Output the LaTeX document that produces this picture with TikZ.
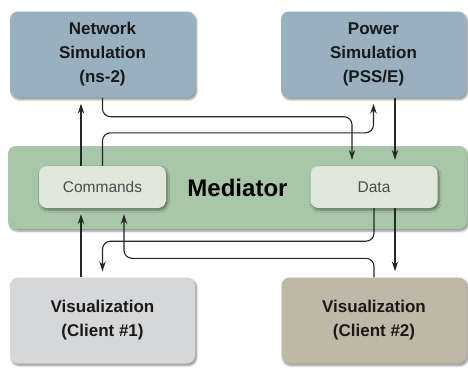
\documentclass[tikz,border=0pt]{standalone}
\usepackage{fontspec}
\setmainfont{Liberation Sans}
\usetikzlibrary{arrows.meta,shadows.blur}

\definecolor{simblue}{HTML}{98B0C0}
\definecolor{medgreen}{HTML}{A8C6A8}
\definecolor{innergreen}{HTML}{DDE8DB}
\definecolor{clientgray}{HTML}{D6D7D9}
\definecolor{clienttan}{HTML}{C0B8A6}

\begin{document}
\begin{tikzpicture}[x=1pt, y=-1pt,
  shade box/.style={rounded corners=8pt, inner sep=0pt,
    blur shadow={shadow xshift=1.5pt, shadow yshift=-2pt, shadow blur steps=6, shadow opacity=45}},
  bigbox/.style={shade box, minimum width=185pt, minimum height=86pt, align=center,
    text=black!90, font=\bfseries\fontsize{17}{24}\selectfont},
  smallbox/.style={shade box, fill=innergreen, minimum width=127pt, minimum height=42pt,
    text=black!70, font=\fontsize{15.5}{18}\selectfont},
  arr/.style={draw=black!85, line width=1.1pt, rounded corners=8pt,
    -{Stealth[length=10pt,width=6.5pt]}, shorten >=6pt}]
\useasboundingbox (0,0) rectangle (468,368);

% simulators
\node[bigbox, fill=simblue] (net) at (102.5,54.5) {Network\\Simulation\\(ns-2)};
\node[bigbox, fill=simblue] (pow) at (373.5,54.5) {Power\\Simulation\\(PSS/E)};

% mediator band with its two ports
\node[shade box, fill=medgreen, minimum width=459pt, minimum height=83pt,
  font=\bfseries\fontsize{24}{28}\selectfont] (med) at (237.5,187.5) {Mediator};
\node[smallbox] (cmd) at (102.5,187) {Commands};
\node[smallbox] (dat) at (374,187) {Data};

% clients
\node[bigbox, fill=clientgray] (cl1) at (102.5,320.5) {Visualization\\(Client \#1)};
\node[bigbox, fill=clienttan] (cl2) at (374,320.5) {Visualization\\(Client \#2)};

% commands go up, data comes down
\draw[arr] ([xshift=-21.5pt]cmd.north) -- ([xshift=-21.5pt]net.south);
\draw[arr] (net.south) -- ++(0,19) -| ([xshift=-22pt]dat.north);
\draw[arr] (cmd.north) -- ++(0,-33) -| (pow.south);
\draw[arr] ([xshift=21.5pt]pow.south) -- ([xshift=21pt]dat.north);
\draw[arr] ([xshift=21pt]dat.south) -- ([xshift=21pt]cl2.north);
\draw[arr] (dat.south) -- ++(0,33) -| (cl1.north);
\draw[arr] ([xshift=-21.5pt]cl1.north) -- ([xshift=-21.5pt]cmd.south);
\draw[arr] (cl2.north) -- ++(0,-19) -| ([xshift=21.5pt]cmd.south);
\end{tikzpicture}
\end{document}
